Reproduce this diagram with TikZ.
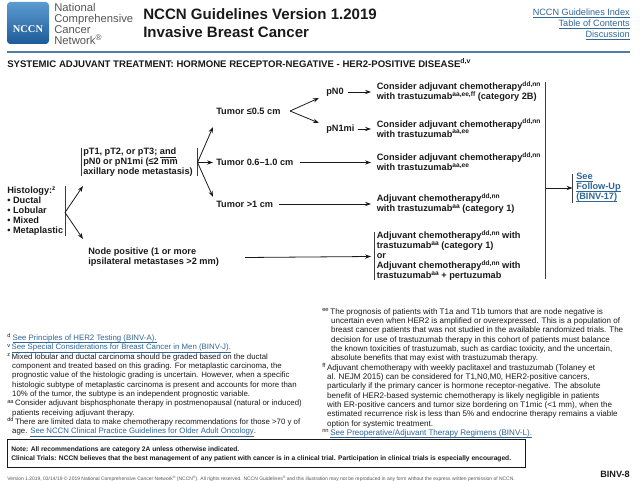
\documentclass[tikz,border=0pt]{standalone}
\usepackage{fontspec}
\setmainfont{Liberation Sans}
\usetikzlibrary{arrows.meta}
\definecolor{linkblue}{HTML}{2F6698}
\definecolor{rulefill}{HTML}{4F7FA3}
\definecolor{greytxt}{HTML}{555555}
\definecolor{ink}{HTML}{1A1A1A}
\definecolor{logotop}{HTML}{5B9BD0}
\definecolor{logobot}{HTML}{1D5A99}
\newcommand{\sps}[1]{\raisebox{0.36em}[0pt][0pt]{\scalebox{0.72}{#1}}}
\newcommand{\lnk}[1]{\vphantom{Ag}\underline{\smash{#1}}}
\tikzset{
  lbl/.style={inner sep=0pt,anchor=west,align=left,text=ink,font=\fontsize{6.9}{7.5}\selectfont\bfseries},
  fn/.style={inner sep=0pt,anchor=north west,align=left,text=ink,font=\fontsize{5.87}{7}\selectfont},
  fnb/.style={fn,font=\fontsize{6.05}{7}\selectfont},
  hdr/.style={inner sep=0pt,anchor=west,align=left},
  arr/.style={line width=0.6pt,ink,-{Stealth[length=4.5pt,width=3.2pt]}},
  bar/.style={line width=0.7pt,ink!85!white},
}
\begin{document}
\begin{tikzpicture}[x=0.75pt,y=-0.75pt]
\useasboundingbox (0,0) rectangle (640,481);
% header
\shade[top color=logotop,bottom color=logobot,rounded corners=2.5pt] (7,2) rectangle (49,44);
\node[hdr,anchor=center,text=white,font=\fontsize{7.8}{8}\selectfont] (logo) at (28,29) {\fontspec{Liberation Serif}\bfseries NCCN};
\node[hdr,anchor=north west,text=greytxt,font=\fontsize{8.45}{8.25}\selectfont] (org) at (54,3) {National\\Comprehensive\\Cancer\\Network\sps{®}};
\node[hdr,anchor=north west,text=ink,font=\fontsize{11.3}{13.5}\selectfont\bfseries] (title) at (143,8) {NCCN Guidelines Version 1.2019\\Invasive Breast Cancer};
\node[hdr,anchor=north east,align=right,text=linkblue,font=\fontsize{6.85}{8.25}\selectfont] (links) at (630,8.5) {\lnk{NCCN Guidelines Index}\\\lnk{Table of Contents}\\\lnk{Discussion}};
\fill[rulefill] (7,51) rectangle (630,53);
\node[hdr,text=ink,font=\fontsize{7.2}{8}\selectfont\bfseries] (sub) at (7,64) {SYSTEMIC ADJUVANT TREATMENT: HORMONE RECEPTOR-NEGATIVE - HER2-POSITIVE DISEASE\sps{d,v}};

% flow nodes
\node[lbl] (hist) at (7,211) {Histology:\sps{z}\\• Ductal\\• Lobular\\• Mixed\\• Metaplastic};
\node[lbl] (pt) at (83,162.5) {pT1, pT2, or pT3; \underline{and}\\pN0 or pN1mi (≤2 mm\\axillary node metastasis)};
\node[lbl] (np) at (88,257.5) {Node positive (1 or more\\ipsilateral metastases >2 mm)};
\node[lbl] (t05) at (216,111) {Tumor ≤0.5 cm};
\node[lbl] (t06) at (216,162.5) {Tumor 0.6–1.0 cm};
\node[lbl] (t1) at (216,204) {Tumor >1 cm};
\node[lbl] (pn0) at (326,92) {pN0};
\node[lbl] (pn1) at (326,129) {pN1mi};
\node[lbl] (c1) at (376.5,92) {Consider adjuvant chemotherapy\sps{dd,nn}\\with trastuzumab\sps{aa,ee,ff} (category 2B)};
\node[lbl] (c2) at (376.5,129) {Consider adjuvant chemotherapy\sps{dd,nn}\\with trastuzumab\sps{aa,ee}};
\node[lbl] (c3) at (376.5,162.5) {Consider adjuvant chemotherapy\sps{dd,nn}\\with trastuzumab\sps{aa,ee}};
\node[lbl] (c4) at (376.5,204) {Adjuvant chemotherapy\sps{dd,nn}\\with trastuzumab\sps{aa} (category 1)};
\node[lbl] (c5) at (376.5,256.5) {Adjuvant chemotherapy\sps{dd,nn} with\\trastuzumab\sps{aa} (category 1)\\or\\Adjuvant chemotherapy\sps{dd,nn} with\\trastuzumab\sps{aa} + pertuzumab};
\node[lbl,text=linkblue] (fu) at (576,188) {\lnk{See}\\\lnk{Follow-Up}\\\lnk{(BINV-17)}};

% bars
\coordinate (h1) at (65,186); \coordinate (h2) at (65,236); \coordinate (hm) at (65,212.5);
\coordinate (p1) at (81.5,148); \coordinate (p2) at (81.5,176);
\coordinate (q1) at (197.5,148); \coordinate (q2) at (197.5,176); \coordinate (qm) at (197.5,162.5);
\coordinate (f0) at (290,111);
\coordinate (r1) at (374.5,232); \coordinate (r2) at (374.5,280);
\coordinate (s1) at (545.5,82); \coordinate (s2) at (545.5,279); \coordinate (sm) at (545.5,188);
\coordinate (u1) at (572.5,174); \coordinate (u2) at (572.5,203);
\coordinate (a1) at (83,186); \coordinate (a2) at (83,239);
\coordinate (b1) at (213,127); \coordinate (b2) at (213,197);
\coordinate (g1) at (319,98); \coordinate (g2) at (319,123);
\draw[bar] (h1)--(h2); \draw[bar] (p1)--(p2); \draw[bar] (q1)--(q2);
\draw[bar] (r1)--(r2); \draw[bar] (s1)--(s2); \draw[bar] (u1)--(u2);
% connectors
\draw[arr] (hm)--(a1);
\draw[arr] (hm)--(a2);
\draw[arr] (qm)--(b1);
\draw[arr] (qm)--([xshift=-2.2pt]t06.west);
\draw[arr] (qm)--(b2);
\draw[arr] (f0)--(g1);
\draw[arr] (f0)--(g2);
\draw[arr] ([xshift=3pt]pn0.east)--([xshift=-4.1pt]c1.west);
\draw[arr] ([xshift=2.2pt]pn1.east)--([xshift=-4.1pt]c2.west);
\draw[arr] ([xshift=4.5pt]t06.east)--([xshift=-4.1pt]c3.west);
\draw[arr] ([xshift=4.5pt]t1.east)--([xshift=-4.1pt]c4.west);
\draw[arr] ([xshift=19.5pt]np.east)--([xshift=-4.1pt]c5.west);
\draw[arr] (sm)--(fu.west -| u1);

% footnotes
\node[fn] (fnl) at (7,335) {\sps{d} \textcolor{linkblue}{\lnk{See Principles of HER2 Testing (BINV-A).}}\\
\sps{v }\textcolor{linkblue}{\lnk{See Special Considerations for Breast Cancer in Men (BINV-J).}}\\
\sps{z }Mixed lobular and ductal carcinoma should be graded based on the ductal\\
\hspace*{3.7pt}component and treated based on this grading. For metaplastic carcinoma, the\\
\hspace*{3.7pt}prognostic value of the histologic grading is uncertain. However, when a specific\\
\hspace*{3.7pt}histologic subtype of metaplastic carcinoma is present and accounts for more than\\
\hspace*{3.7pt}10\% of the tumor, the subtype is an independent prognostic variable.\\
\sps{aa }Consider adjuvant bisphosphonate therapy in postmenopausal (natural or induced)\\
\hspace*{3.7pt}patients receiving adjuvant therapy.\\
\sps{dd }There are limited data to make chemotherapy recommendations for those >70 y of\\
\hspace*{3.7pt}age. \textcolor{linkblue}{\lnk{See NCCN Clinical Practice Guidelines for Older Adult Oncology}}.};
\node[fnb] (fnr) at (322,308) {\sps{ee }The prognosis of patients with T1a and T1b tumors that are node negative is\\
\hspace*{6.6pt}uncertain even when HER2 is amplified or overexpressed. This is a population of\\
\hspace*{6.6pt}breast cancer patients that was not studied in the available randomized trials. The\\
\hspace*{6.6pt}decision for use of trastuzumab therapy in this cohort of patients must balance\\
\hspace*{6.6pt}the known toxicities of trastuzumab, such as cardiac toxicity, and the uncertain,\\
\hspace*{6.6pt}absolute benefits that may exist with trastuzumab therapy.\\
\sps{ff }Adjuvant chemotherapy with weekly paclitaxel and trastuzumab (Tolaney et\\
\hspace*{3.7pt}al. NEJM 2015) can be considered for T1,N0,M0, HER2-positive cancers,\\
\hspace*{3.7pt}particularly if the primary cancer is hormone receptor-negative. The absolute\\
\hspace*{3.7pt}benefit of HER2-based systemic chemotherapy is likely negligible in patients\\
\hspace*{3.7pt}with ER-positive cancers and tumor size bordering on T1mic (<1 mm), when the\\
\hspace*{3.7pt}estimated recurrence risk is less than 5\% and endocrine therapy remains a viable\\
\hspace*{3.7pt}option for systemic treatment.\\
\sps{nn }\textcolor{linkblue}{\lnk{See Preoperative/Adjuvant Therapy Regimens (BINV-L).}}};
% note box
\draw[line width=0.7pt,ink] (7,439) rectangle (525,467);
\node[hdr,text=ink,font=\fontsize{5.0}{7}\selectfont\bfseries] (note) at (11,454) {Note: All recommendations are category 2A unless otherwise indicated.\\Clinical Trials: NCCN believes that the best management of any patient with cancer is in a clinical trial. Participation in clinical trials is especially encouraged.};
\node[hdr,text=ink,font=\fontsize{6.85}{8}\selectfont\bfseries,anchor=east] (pg) at (630,474) {BINV-8};
\node[hdr,text=greytxt,font=\fontsize{3.73}{4}\selectfont] (cr) at (7,479) {Version 1.2019, 03/14/19 © 2019 National Comprehensive Cancer Network\sps{®} (NCCN\sps{®}). All rights reserved. NCCN Guidelines\sps{®} and this illustration may not be reproduced in any form without the express written permission of NCCN.};
\end{tikzpicture}
\end{document}
